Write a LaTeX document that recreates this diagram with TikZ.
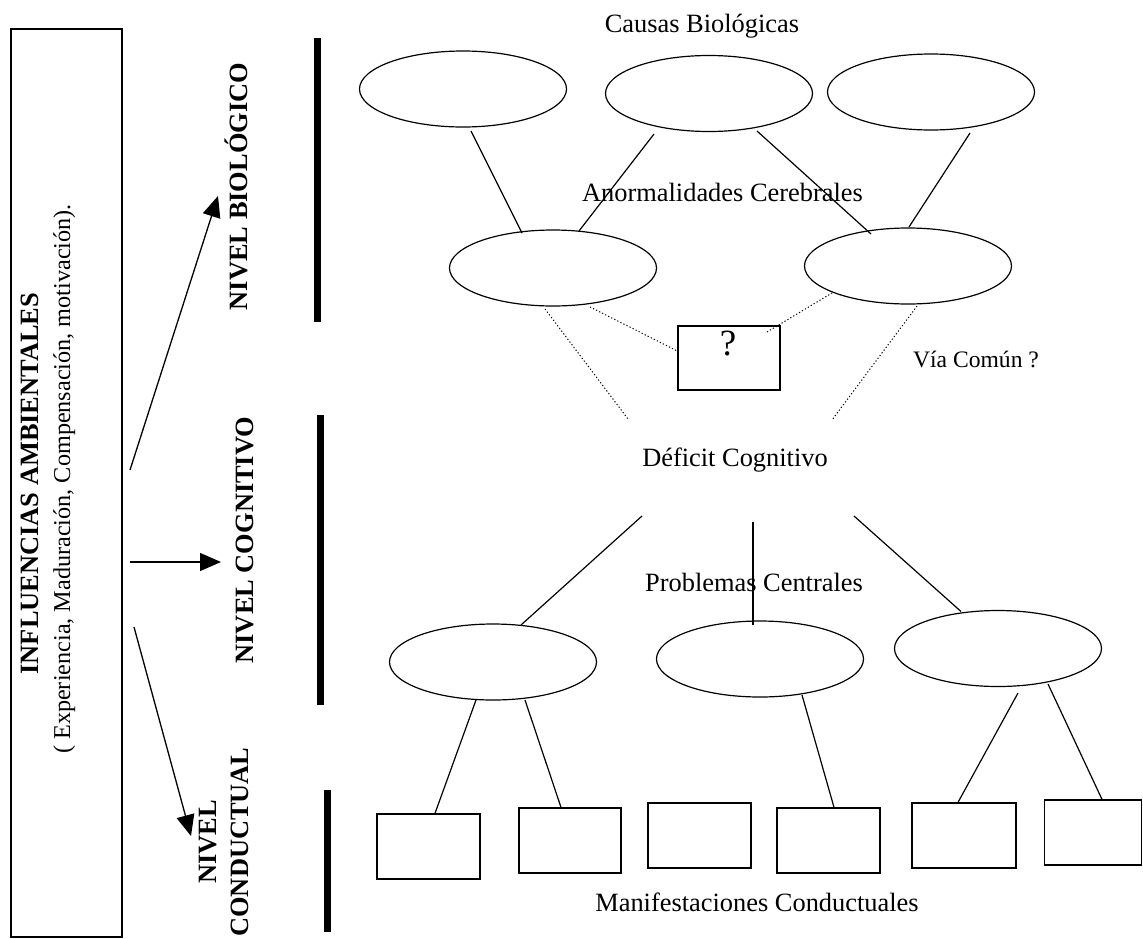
\documentclass[tikz,border=0pt]{standalone}
\usepackage{fontspec}
\setmainfont{Liberation Serif}
\usetikzlibrary{shapes.geometric,arrows.meta,calc}
\begin{document}
\begin{tikzpicture}[x=1pt,y=-1pt,
  oval/.style={draw,ellipse,line width=1.2pt,minimum width=207pt,minimum height=76pt,inner sep=0pt},
  sqbox/.style={draw,rectangle,line width=1.3pt,minimum width=103pt,minimum height=65pt,inner sep=0pt},
  lnk/.style={line width=1.2pt},
  dotl/.style={line width=1pt,dash pattern=on 1.2pt off 2.2pt},
  arr/.style={line width=1.3pt,-{Triangle[length=21pt,width=18pt]}},
  lbl/.style={font=\fontsize{26.4}{30}\selectfont,inner sep=0pt,anchor=base},
  lvl/.style={font=\bfseries\fontsize{26.4}{30}\selectfont,inner sep=0pt,anchor=base,rotate=90},
]
\useasboundingbox (0,0) rectangle (1143,938);

% left box
\node[draw,line width=1.3pt,minimum width=111pt,minimum height=908pt,inner sep=0pt] (infl) at (66.5,483) {};
\node[lvl] (inflT) at (38,483.5) {INFLUENCIAS AMBIENTALES};
\node[lbl,rotate=90,font=\fontsize{24.2}{28}\selectfont] (inflS) at (70,479) {( Experiencia, Maduración, Compensación, motivación).};

% level bars
\fill (313.5,38) rectangle (320.5,322);
\fill (316.5,415) rectangle (323.5,705);
\fill (323.5,790) rectangle (330.5,932);

% level labels
\node[lvl] (bio) at (247,186.5) {NIVEL BIOLÓGICO};
\node[lvl] (cog) at (253,540) {NIVEL COGNITIVO};
\node[lvl] (con1) at (216,842) {NIVEL};
\node[lvl] (con2) at (248,842) {CONDUCTUAL};

% arrows
\coordinate (a1s) at (130,470); \coordinate (a1e) at (218,196);
\coordinate (a2s) at (130,562); \coordinate (a2e) at (221,562);
\coordinate (a3s) at (134,627); \coordinate (a3e) at (191,836);
\draw[arr] (a1s) -- (a1e);
\draw[arr] (a2s) -- (a2e);
\draw[arr] (a3s) -- (a3e);

% ellipses
\node[oval] (E1) at (463,89) {};
\node[oval] (E2) at (709,93.5) {};
\node[oval] (E3) at (931,92) {};
\node[oval] (E4) at (553,268) {};
\node[oval] (E5) at (908,266) {};
\node[oval] (E6) at (493,662) {};
\node[oval] (E7) at (760,659) {};
\node[oval] (E8) at (998,648.5) {};

% texts
\node[lbl] (causas) at (702,32) {Causas Biológicas};
\node[lbl] (anorm) at (722.5,201) {Anormalidades Cerebrales};
\node[lbl] (def) at (735,466) {Déficit Cognitivo};
\node[lbl] (prob) at (754,591) {Problemas Centrales};
\node[lbl] (manif) at (757,911) {Manifestaciones Conductuales};
\node[lbl,font=\fontsize{23.6}{28}\selectfont] (via) at (976,367) {Vía Común ?};

% question box
\node[sqbox,minimum width=102pt,minimum height=64pt] (qbox) at (729,358) {};
\node[lbl,font=\fontsize{37}{40}\selectfont] (qm) at (728,355) {?};

% behaviour boxes
\node[sqbox] (B1) at (428.5,846.5) {};
\node[sqbox,minimum width=102pt] (B2) at (570,840.5) {};
\node[sqbox] (B3) at (699.5,835.5) {};
\node[sqbox] (B4) at (828.5,840.5) {};
\node[sqbox,minimum width=104pt] (B5) at (964,835.5) {};
\node[sqbox,minimum width=97pt] (B6) at (1093,832.5) {};

% biological links
\draw[lnk] ($(E1)+(8,42)$) -- ($(E4)+(-31,-35)$);
\draw[lnk] ($(E2)+(-55,40.5)$) -- ($(E4)+(26,-37)$);
\draw[lnk] ($(E2)+(48,37.5)$) -- ($(E5)+(-37,-32)$);
\draw[lnk] ($(E3)+(39,41)$) -- ($(E5)+(1,-39)$);

% dotted links
\coordinate (d1e) at (628,419);
\coordinate (d4e) at (832,420);
\draw[dotl] ($(E4)+(-8,41)$) -- (d1e);
\draw[dotl] ($(E4)+(37,39)$) -- ($(qbox.west)+(0,-7)$);
\draw[dotl] ($(qbox)+(38,-26)$) -- ($(E5)+(-76,27)$);
\draw[dotl] ($(E5)+(9,40)$) -- (d4e);

% cognitive links
\coordinate (dA) at (642,516);
\coordinate (dB) at (753,522);
\coordinate (dC) at (854,516);
\draw[lnk] (dA) -- ($(E6)+(28,-37)$);
\draw[lnk] (dB) -- ($(E7)+(-7,-34)$);
\draw[lnk] (dC) -- ($(E8)+(-37,-37)$);

% behavioural links
\draw[lnk] ($(E6)+(-17,38)$) -- ($(B1.north)+(6.5,0)$);
\draw[lnk] ($(E6)+(32,38)$) -- ($(B2.north)+(-9,0)$);
\draw[lnk] ($(E7)+(42,36)$) -- ($(B4.north)+(5.5,0)$);
\draw[lnk] ($(E8)+(20,44.5)$) -- ($(B5.north)+(-6,0)$);
\draw[lnk] ($(E8)+(50,35.5)$) -- ($(B6.north)+(9,0)$);
\end{tikzpicture}
\end{document}
